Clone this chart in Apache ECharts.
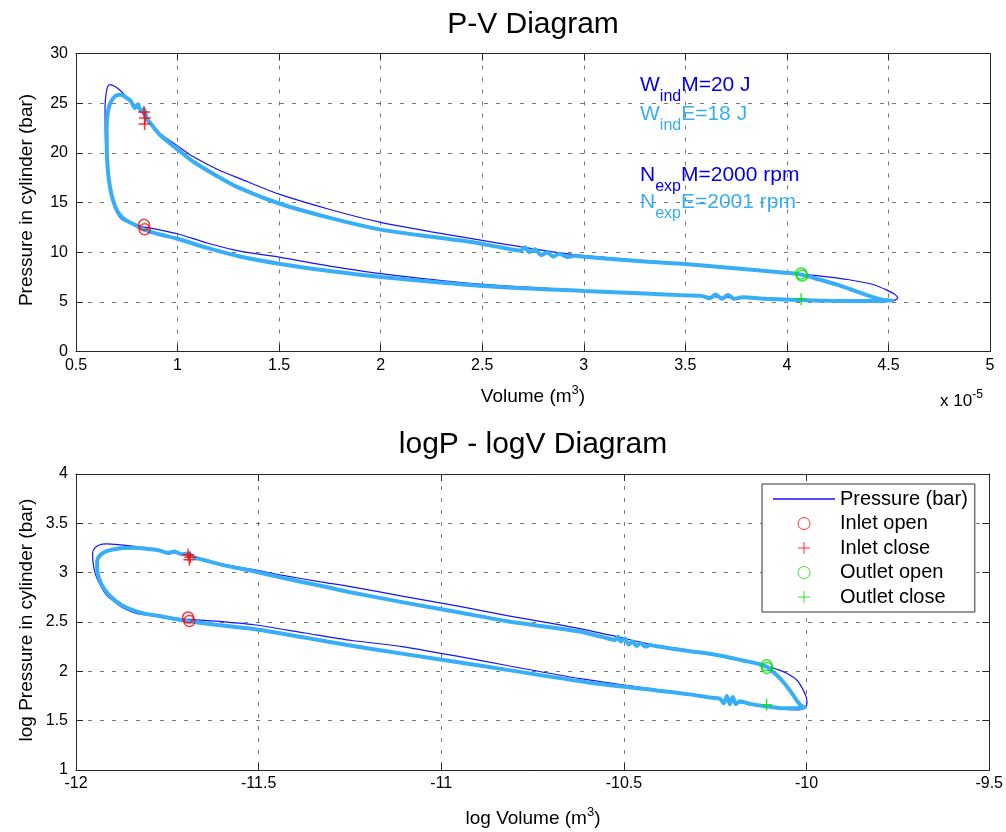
<!DOCTYPE html>
<html>
<head>
<meta charset="utf-8">
<script src="https://cdn.jsdelivr.net/npm/echarts@6/dist/echarts.min.js"></script>
<style>
  html, body { margin: 0; padding: 0; background: #fff; }
  #chart { width: 1006px; height: 832px; }
</style>
</head>
<body>
<div id="chart"></div>
<script>
// ---------- data (V in 1e-5 m^3, P in bar) ----------
const modelV = [0.83, 0.80, 0.76, 0.725, 0.70, 0.685, 0.668, 0.656, 0.648, 0.644, 0.643, 0.647, 0.655, 0.667, 0.69, 0.717, 0.75, 0.80, 0.84, 0.914, 1.0, 1.078, 1.2, 1.307, 1.5, 1.75, 2.0, 2.25, 2.456, 2.686, 2.93, 3.2, 3.5, 3.8, 4.0, 4.07, 4.2, 4.3, 4.42, 4.49, 4.535, 4.545, 4.52, 4.45, 4.3, 4.07, 3.7, 3.5, 3.3, 3.0, 2.456, 2.0, 1.75, 1.5, 1.307, 1.15, 1.0, 0.9, 0.83];
const modelP = [12.55, 12.73, 12.95, 13.3, 14.0, 14.8, 16.0, 17.8, 19.8, 22.0, 24.5, 25.8, 26.6, 26.87, 26.7, 26.3, 25.6, 24.6, 23.7, 21.95, 20.7, 19.6, 18.3, 17.4, 15.84, 14.3, 13.0, 12.05, 11.34, 10.55, 9.8, 9.3, 8.85, 8.3, 7.95, 7.8, 7.52, 7.25, 6.77, 6.2, 5.7, 5.35, 5.1, 5.0, 5.02, 5.15, 5.45, 5.65, 5.85, 6.15, 6.84, 7.84, 8.6, 9.5, 10.1, 10.9, 11.85, 12.3, 12.55];

const expV = [0.83, 0.78, 0.74, 0.715, 0.695, 0.68, 0.668, 0.658, 0.652, 0.651, 0.655, 0.665, 0.68, 0.70, 0.72, 0.745, 0.77, 0.79, 0.805, 0.82, 0.835, 0.85, 0.87, 0.914, 1.0, 1.078, 1.2, 1.307, 1.5, 1.75, 2.0, 2.25, 2.456, 2.6, 2.69, 2.71, 2.73, 2.76, 2.79, 2.82, 2.85, 2.88, 2.92, 2.96, 3.0, 3.3, 3.5, 3.87, 4.0, 4.07, 4.15, 4.25, 4.35, 4.42, 4.47, 4.52, 4.4, 4.2, 4.07, 3.9, 3.78, 3.74, 3.71, 3.68, 3.65, 3.62, 3.58, 3.5, 3.3, 3.0, 2.5, 2.0, 1.75, 1.5, 1.307, 1.15, 1.0, 0.9, 0.83];
const expP = [12.3, 12.85, 13.3, 13.8, 14.5, 15.4, 16.5, 18.0, 20.0, 22.5, 23.8, 24.8, 25.4, 25.8, 25.85, 25.6, 25.2, 24.5, 24.9, 24.2, 24.4, 23.4, 22.9, 21.8, 20.35, 19.1, 17.6, 16.44, 14.9, 13.45, 12.27, 11.55, 11.0, 10.45, 10.15, 10.5, 10.0, 10.3, 9.7, 10.0, 9.55, 9.85, 9.5, 9.65, 9.55, 9.05, 8.8, 8.15, 7.92, 7.74, 7.3, 6.7, 6.0, 5.5, 5.22, 5.12, 5.08, 5.1, 5.18, 5.3, 5.45, 5.3, 5.7, 5.3, 5.75, 5.35, 5.6, 5.65, 5.85, 6.1, 6.6, 7.5, 8.1, 8.84, 9.57, 10.4, 11.35, 11.85, 12.3];

const inletOpenV = [0.835, 0.838];
const inletOpenP = [12.75, 12.3];
const inletCloseV = [0.835, 0.84, 0.838];
const inletCloseP = [24.1, 23.5, 22.9];
const outletOpenV = [4.07, 4.075];
const outletOpenP = [7.85, 7.65];
const outletCloseV = [4.07];
const outletCloseP = [5.27];

const annotations = ['M=20 J', 'E=18 J', 'M=2000 rpm', 'E=2001 rpm'];

// ---------- helpers ----------
const FONT = 'Liberation Sans, Arial, Helvetica, sans-serif';
const C_MODEL = '#1414ff';
const C_EXP = '#38aef6';
const C_MODEL_TXT = '#0000ee';
const C_RED = '#ff0000';
const C_GREEN = '#00e000';
const PLUS = 'path://M0 6L12 6M6 0L6 12';
const LINE_ICON = 'path://M0 0L62 0L62 1.3L0 1.3Z';

const pairs = (xs, ys) => xs.map((x, i) => [x, ys[i]]);
const logPairs = (xs, ys) => xs.map((x, i) => [Math.log(x * 1e-5), Math.log(ys[i])]);

function mkX(grid, min, max, pos, labels) {
  return {
    type: 'value', gridIndex: grid, min: min, max: max, interval: 0.5, position: pos,
    axisLine: { show: true, onZero: false, lineStyle: { color: '#262626', width: 1 } },
    axisTick: { show: true, inside: true, length: 7, lineStyle: { color: '#262626' } },
    axisLabel: { show: labels, color: '#000', fontSize: 16, fontFamily: FONT, margin: 6 },
    splitLine: { show: labels, lineStyle: { type: [4, 8], color: '#555', width: 0.8 } }
  };
}
function mkY(grid, min, max, interval, pos, labels) {
  return {
    type: 'value', gridIndex: grid, min: min, max: max, interval: interval, position: pos,
    axisLine: { show: true, onZero: false, lineStyle: { color: '#262626', width: 1 } },
    axisTick: { show: true, inside: true, length: 7, lineStyle: { color: '#262626' } },
    axisLabel: { show: labels, color: '#000', fontSize: 16, fontFamily: FONT, margin: 8 },
    splitLine: { show: labels, lineStyle: { type: [4, 8], color: '#555', width: 0.8 } }
  };
}

function seriesFor(g, tf) {
  const xi = g * 2, yi = g * 2;
  return [
    { name: 'Pressure (bar)', type: 'line', xAxisIndex: xi, yAxisIndex: yi, data: tf(modelV, modelP),
      symbol: 'none', smooth: 0.25, lineStyle: { color: C_MODEL, width: 1.2 }, itemStyle: { color: C_MODEL }, z: 2 },
    { name: 'Experimental', type: 'line', xAxisIndex: xi, yAxisIndex: yi, data: tf(expV, expP),
      symbol: 'none', smooth: 0.25, lineStyle: { color: C_EXP, width: 4 }, itemStyle: { color: C_EXP }, z: 3 },
    { name: 'Inlet open', type: 'scatter', xAxisIndex: xi, yAxisIndex: yi, data: tf(inletOpenV, inletOpenP),
      symbol: 'circle', symbolSize: 11, itemStyle: { color: 'rgba(0,0,0,0)', borderColor: C_RED, borderWidth: 1.5 }, z: 5 },
    { name: 'Inlet close', type: 'scatter', xAxisIndex: xi, yAxisIndex: yi, data: tf(inletCloseV, inletCloseP),
      symbol: PLUS, symbolSize: 12, itemStyle: { color: C_RED, borderColor: C_RED, borderWidth: 1.5 }, z: 5 },
    { name: 'Outlet open', type: 'scatter', xAxisIndex: xi, yAxisIndex: yi, data: tf(outletOpenV, outletOpenP),
      symbol: 'circle', symbolSize: 11, itemStyle: { color: 'rgba(0,0,0,0)', borderColor: C_GREEN, borderWidth: 1.5 }, z: 5 },
    { name: 'Outlet close', type: 'scatter', xAxisIndex: xi, yAxisIndex: yi, data: tf(outletCloseV, outletCloseP),
      symbol: PLUS, symbolSize: 12, itemStyle: { color: C_GREEN, borderColor: C_GREEN, borderWidth: 1.5 }, z: 5 }
  ];
}

function txt(x, y, text, opts) {
  return Object.assign({ type: 'text', x: x, y: y, z: 100,
    style: Object.assign({ text: text, fontFamily: FONT, fontSize: 16, fill: '#000', align: 'center', verticalAlign: 'middle' }, opts || {}) });
}
// text with a superscript part: {a|...}{s|...}
function sup(x, y, text, size, align) {
  return { type: 'text', x: x, y: y, z: 100, style: {
    text: text, fontFamily: FONT, fill: '#000', align: align || 'center', verticalAlign: 'middle',
    rich: { a: { fontSize: size, fontFamily: FONT, fill: '#000', verticalAlign: 'top', padding: [4, 0, 0, 0] },
            s: { fontSize: Math.round(size * 0.68), fontFamily: FONT, fill: '#000', verticalAlign: 'top' } } } };
}
// text with a subscript part
function subText(x, y, main, s, rest, color) {
  return { type: 'text', x: x, y: y, z: 100, style: {
    text: '{m|' + main + '}{s|' + s + '}{m|' + rest + '}', align: 'left', verticalAlign: 'top',
    rich: { m: { fontSize: 21, fontFamily: FONT, fill: color, verticalAlign: 'top' },
            s: { fontSize: 16, fontFamily: FONT, fill: color, verticalAlign: 'top', padding: [14, 0, 0, 0] } } } };
}

const chart = echarts.init(document.getElementById('chart'), null, { renderer: 'canvas' });
chart.setOption({
  animation: false,
  backgroundColor: '#fff',
  grid: [
    { left: 76, top: 53.5, width: 914, height: 298 },
    { left: 76, top: 474, width: 914, height: 296 }
  ],
  xAxis: [
    mkX(0, 0.5, 5, 'bottom', true), mkX(0, 0.5, 5, 'top', false),
    mkX(1, -12, -9.5, 'bottom', true), mkX(1, -12, -9.5, 'top', false)
  ],
  yAxis: [
    mkY(0, 0, 30, 5, 'left', true), mkY(0, 0, 30, 5, 'right', false),
    mkY(1, 1, 4, 0.5, 'left', true), mkY(1, 1, 4, 0.5, 'right', false)
  ],
  legend: {
    orient: 'vertical', left: 762, top: 484, padding: [5, 7, 5, 11],
    itemWidth: 62, itemHeight: 12, itemGap: 4.5,
    borderColor: '#333', borderWidth: 1, backgroundColor: '#fff',
    textStyle: { fontSize: 20, lineHeight: 20, color: '#000', fontFamily: FONT },
    selectedMode: false,
    data: [
      { name: 'Pressure (bar)', icon: LINE_ICON, itemStyle: { color: C_MODEL, borderWidth: 0 } },
      { name: 'Inlet open', icon: 'circle', itemStyle: { color: 'rgba(0,0,0,0)', borderColor: C_RED, borderWidth: 1 } },
      { name: 'Inlet close', icon: PLUS, itemStyle: { color: C_RED, borderColor: C_RED, borderWidth: 1 } },
      { name: 'Outlet open', icon: 'circle', itemStyle: { color: 'rgba(0,0,0,0)', borderColor: C_GREEN, borderWidth: 1 } },
      { name: 'Outlet close', icon: PLUS, itemStyle: { color: C_GREEN, borderColor: C_GREEN, borderWidth: 1 } }
    ]
  },
  graphic: [
    txt(533, 25, 'P-V Diagram', { fontSize: 30 }),
    txt(533, 445, 'logP - logV Diagram', { fontSize: 30 }),
    Object.assign(txt(27, 200, 'Pressure in cylinder (bar)', { fontSize: 19 }), { rotation: Math.PI / 2 }),
    Object.assign(txt(27, 620, 'log Pressure in cylinder (bar)', { fontSize: 19 }), { rotation: Math.PI / 2 }),
    sup(533, 395, '{a|Volume (m}{s|3}{a|)}', 19),
    sup(533, 817, '{a|log Volume (m}{s|3}{a|)}', 19),
    sup(940, 399, '{a|x 10}{s|-5}', 17, 'left'),
    subText(640, 75, 'W', 'ind', annotations[0], C_MODEL_TXT),
    subText(640, 103.5, 'W', 'ind', annotations[1], C_EXP),
    subText(640, 165, 'N', 'exp', annotations[2], C_MODEL_TXT),
    subText(640, 192, 'N', 'exp', annotations[3], C_EXP)
  ],
  series: [].concat(seriesFor(0, pairs), seriesFor(1, logPairs))
});
</script>
</body>
</html>
